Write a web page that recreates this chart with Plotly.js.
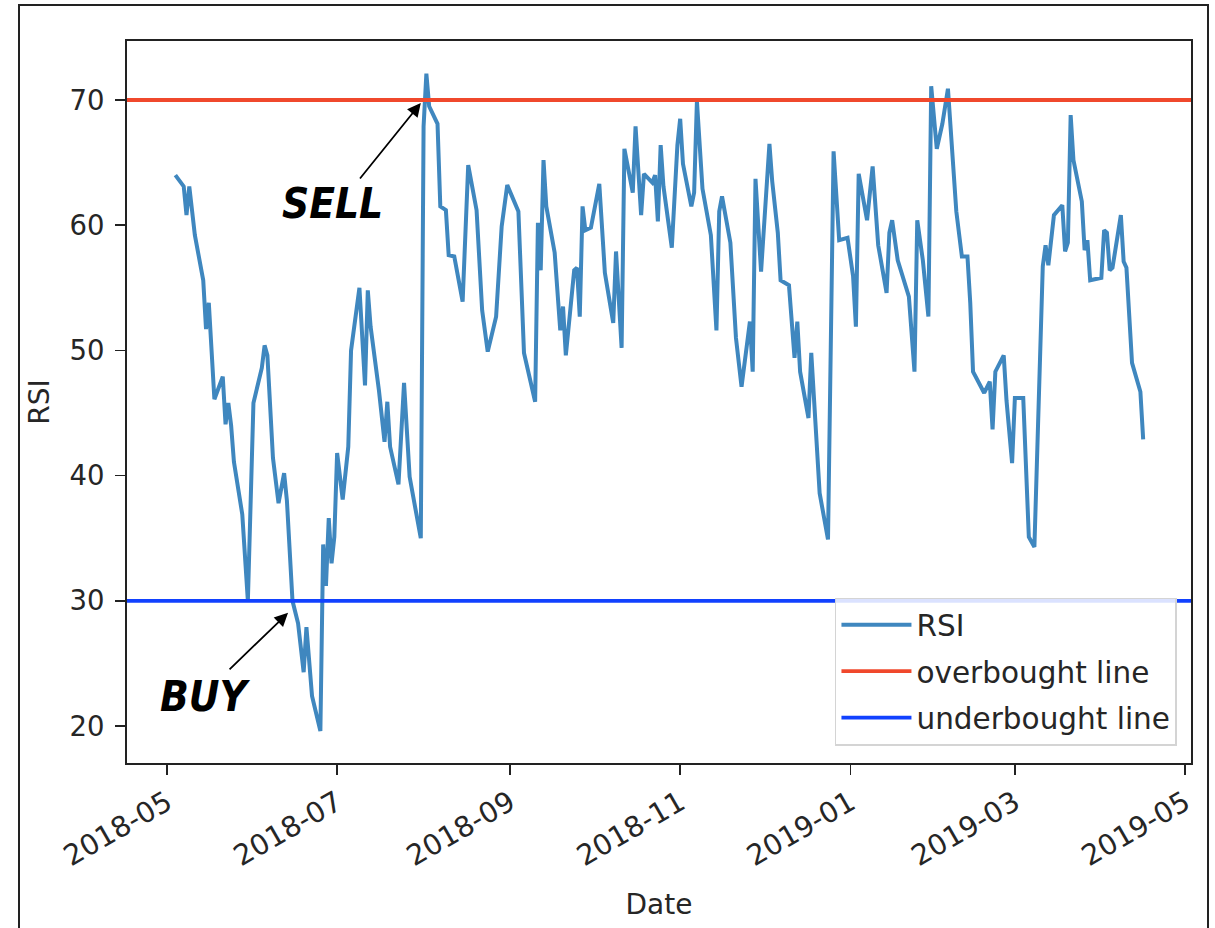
<!DOCTYPE html>
<html>
<head>
<meta charset="utf-8">
<script src="https://cdn.plot.ly/plotly-3.0.1.min.js"></script>
<style>
  html, body { margin: 0; padding: 0; background: #ffffff; }
  #wrap { position: relative; width: 1215px; height: 928px; overflow: hidden; }
  #chart { position: absolute; left: 0; top: 0; width: 1215px; height: 928px; }
  #frame { position: absolute; left: 18px; top: 4px; width: 1187px; height: 1000px;
           border: 2px solid #222; pointer-events: none; }
</style>
</head>
<body>
<div id="wrap">
  <div id="chart"></div>
  <div id="frame"></div>
</div>
<script>
// ---- data ----
const dates = [
  '2018-05-04','2018-05-07','2018-05-08','2018-05-09','2018-05-11','2018-05-14','2018-05-15','2018-05-16',
  '2018-05-18','2018-05-21','2018-05-22','2018-05-23','2018-05-24','2018-05-25','2018-05-28','2018-05-30',
  '2018-06-01','2018-06-04','2018-06-05','2018-06-06','2018-06-08','2018-06-10','2018-06-12','2018-06-13',
  '2018-06-15','2018-06-17','2018-06-19','2018-06-20','2018-06-22','2018-06-25','2018-06-26','2018-06-27',
  '2018-06-28','2018-06-29','2018-06-30','2018-07-01','2018-07-03','2018-07-05','2018-07-06','2018-07-09',
  '2018-07-11','2018-07-12','2018-07-13','2018-07-16','2018-07-18','2018-07-19','2018-07-20','2018-07-23',
  '2018-07-25','2018-07-27','2018-07-31','2018-08-01','2018-08-02','2018-08-03','2018-08-06','2018-08-07',
  '2018-08-09','2018-08-10','2018-08-12','2018-08-13','2018-08-15','2018-08-17','2018-08-20','2018-08-22',
  '2018-08-24','2018-08-27','2018-08-29','2018-08-31','2018-09-04','2018-09-06','2018-09-10','2018-09-11',
  '2018-09-12','2018-09-13','2018-09-14','2018-09-17','2018-09-19','2018-09-20','2018-09-21','2018-09-24',
  '2018-09-25','2018-09-26','2018-09-27','2018-09-28','2018-09-30','2018-10-03','2018-10-05','2018-10-08',
  '2018-10-09','2018-10-11','2018-10-12','2018-10-15','2018-10-16','2018-10-18','2018-10-19','2018-10-22',
  '2018-10-23','2018-10-24','2018-10-25','2018-10-26','2018-10-29','2018-10-31','2018-11-01','2018-11-02',
  '2018-11-05','2018-11-06','2018-11-07','2018-11-09','2018-11-12','2018-11-14','2018-11-15','2018-11-16',
  '2018-11-19','2018-11-21','2018-11-23','2018-11-26','2018-11-27','2018-11-28','2018-11-29','2018-11-30',
  '2018-12-03','2018-12-04','2018-12-06','2018-12-07','2018-12-10','2018-12-12','2018-12-13','2018-12-14',
  '2018-12-17','2018-12-18','2018-12-21','2018-12-24','2018-12-26','2018-12-28','2018-12-31','2019-01-02',
  '2019-01-03','2019-01-04','2019-01-07','2019-01-09','2019-01-11','2019-01-14','2019-01-15','2019-01-16',
  '2019-01-18','2019-01-22','2019-01-24','2019-01-25','2019-01-27','2019-01-29','2019-01-30','2019-02-01',
  '2019-02-03','2019-02-05','2019-02-08','2019-02-10','2019-02-12','2019-02-13','2019-02-14','2019-02-18',
  '2019-02-20','2019-02-21','2019-02-22','2019-02-25','2019-02-26','2019-02-28','2019-03-01','2019-03-04',
  '2019-03-06','2019-03-08','2019-03-11','2019-03-12','2019-03-13','2019-03-15','2019-03-18','2019-03-19',
  '2019-03-20','2019-03-21','2019-03-22','2019-03-25','2019-03-26','2019-03-27','2019-03-28','2019-04-01',
  '2019-04-02','2019-04-03','2019-04-04','2019-04-05','2019-04-08','2019-04-09','2019-04-10','2019-04-12',
  '2019-04-15','2019-04-16'
];
const rsi = [
  64.0, 63.1, 60.8, 63.1, 59.2, 55.6, 51.7, 53.8,
  46.1, 47.9, 44.1, 45.8, 44.0, 41.1, 36.9, 30.0,
  45.8, 48.6, 50.4, 49.6, 41.4, 37.8, 40.2, 38.0,
  30.0, 28.2, 24.3, 27.9, 22.4, 19.6, 34.5, 31.2,
  36.6, 33.0, 35.1, 41.8, 38.1, 42.3, 50.0, 55.0,
  47.2, 54.8, 51.9, 46.8, 42.7, 45.9, 42.3, 39.3,
  47.4, 39.9, 35.0, 67.9, 72.1, 69.5, 68.1, 61.5,
  61.2, 57.6, 57.5, 56.2, 53.9, 64.8, 61.2, 53.2,
  49.9, 52.7, 59.9, 63.2, 61.1, 49.8, 45.9, 60.2,
  56.4, 65.2, 61.5, 57.8, 51.6, 53.5, 49.6, 56.4,
  56.6, 52.7, 61.5, 59.6, 59.8, 63.3, 56.2, 52.2,
  57.9, 50.2, 66.1, 62.6, 67.9, 60.8, 64.1, 63.4,
  64.0, 60.3, 66.4, 63.1, 58.2, 66.4, 68.5, 64.9,
  61.5, 62.6, 69.9, 62.9, 59.2, 51.6, 61.1, 62.3,
  58.6, 51.0, 47.1, 52.3, 48.3, 63.7, 59.4, 56.3,
  66.5, 63.5, 59.4, 55.6, 55.2, 49.4, 52.3, 48.3,
  44.6, 49.8, 38.6, 34.9, 65.9, 58.8, 59.0, 55.9,
  51.9, 64.1, 60.4, 64.7, 58.4, 54.6, 59.4, 60.4,
  57.2, 54.3, 48.3, 60.4, 57.2, 52.7, 71.1, 66.1,
  68.1, 70.9, 61.1, 57.5, 57.5, 53.8, 48.3, 46.6,
  47.5, 43.7, 48.3, 49.6, 46.0, 41.0, 46.2, 46.2,
  35.1, 34.3, 56.7, 58.4, 56.8, 60.8, 61.6, 57.9,
  58.6, 68.8, 65.2, 61.9, 58.0, 58.8, 55.6, 55.8,
  59.6, 59.4, 56.4, 56.6, 60.8, 57.1, 56.6, 49.0,
  46.7, 42.9
];
const overboughtLevel = 70;
const underboughtLevel = 30;
const seriesNames = ['RSI', 'overbought line', 'underbought line'];
const xTickVals = ['2018-05-01','2018-07-01','2018-09-01','2018-11-01','2019-01-01','2019-03-01','2019-05-01'];
const xTickText = ['2018-05','2018-07','2018-09','2018-11','2019-01','2019-03','2019-05'];
const yTickVals = [20, 30, 40, 50, 60, 70];

// ---- layout / styling ----
const xRange = ['2018-04-16 16:00', '2019-05-03 03:30'];
const yRange = [17.05, 74.71];
const FONT = 'DejaVu Sans, Liberation Sans, sans-serif';
const TXT = '#262626';

const traces = [
  { x: dates, y: rsi, type: 'scatter', mode: 'lines', name: seriesNames[0],
    legendgroup: 'a', line: { color: '#3f87bf', width: 4 }, hoverinfo: 'skip' },
  { x: xRange, y: [overboughtLevel, overboughtLevel], type: 'scatter', mode: 'lines', name: seriesNames[1],
    legendgroup: 'b', line: { color: '#f0482c', width: 3.8 }, hoverinfo: 'skip' },
  { x: xRange, y: [underboughtLevel, underboughtLevel], type: 'scatter', mode: 'lines', name: seriesNames[2],
    legendgroup: 'c', line: { color: '#1141ff', width: 3.8 }, hoverinfo: 'skip' }
];

const signalFont = { family: 'Liberation Sans Narrow, DejaVu Sans Condensed, sans-serif', size: 42,
                     color: '#000', weight: 'bold', style: 'italic' };

const layout = {
  width: 1215, height: 928,
  paper_bgcolor: 'rgba(0,0,0,0)', plot_bgcolor: '#ffffff',
  margin: { l: 127, r: 24, t: 41, b: 165 },
  font: { family: FONT, size: 27, color: TXT },
  showlegend: true,
  legend: {
    x: 0.9868, y: 0.024, xanchor: 'right', yanchor: 'bottom',
    bgcolor: 'rgba(255,255,255,0.85)', bordercolor: '#d4d4d4', borderwidth: 1.5,
    font: { family: FONT, size: 29.5, color: TXT },
    traceorder: 'grouped', tracegroupgap: 5, itemwidth: 70
  },
  xaxis: {
    type: 'date', range: xRange, autorange: false,
    tickmode: 'array', tickvals: xTickVals, ticktext: xTickText, tickangle: -30,
    ticks: 'outside', ticklen: 10, tickwidth: 1.5, tickcolor: '#222',
    tickfont: { family: FONT, size: 28.5, color: TXT },
    showgrid: false, zeroline: false,
    showline: true, mirror: true, linecolor: '#222', linewidth: 2,
    title: { text: 'Date', font: { family: FONT, size: 28, color: TXT }, standoff: 22 },
    automargin: false, fixedrange: true
  },
  yaxis: {
    range: yRange, autorange: false,
    tickmode: 'array', tickvals: yTickVals,
    ticks: 'outside', ticklen: 10, tickwidth: 1.5, tickcolor: '#222',
    tickfont: { family: FONT, size: 27.5, color: TXT }, ticklabelstandoff: 5,
    showgrid: false, zeroline: false,
    showline: true, mirror: true, linecolor: '#222', linewidth: 2,
    title: { text: 'RSI', font: { family: FONT, size: 28, color: TXT }, standoff: 12 },
    automargin: false, fixedrange: true
  },
  annotations: [
    { x: '2018-07-31 00:00', y: 69.76, xref: 'x', yref: 'y', text: '', showarrow: true,
      ax: -62, ay: 77, axref: 'pixel', ayref: 'pixel',
      arrowhead: 2, arrowsize: 1.5, arrowwidth: 1.8, arrowcolor: '#000', standoff: 0, startstandoff: 0 },
    { x: '2018-06-13 10:00', y: 29.04, xref: 'x', yref: 'y', text: '', showarrow: true,
      ax: -60, ay: 58, axref: 'pixel', ayref: 'pixel',
      arrowhead: 2, arrowsize: 1.5, arrowwidth: 1.8, arrowcolor: '#000', standoff: 0, startstandoff: 0 },
    { x: '2018-06-29 12:00', y: 61.7, xref: 'x', yref: 'y', text: 'SELL', showarrow: false,
      font: signalFont, xanchor: 'center', yanchor: 'middle' },
    { x: '2018-05-14 14:00', y: 22.4, xref: 'x', yref: 'y', text: 'BUY', showarrow: false,
      font: signalFont, xanchor: 'center', yanchor: 'middle' }
  ]
};

Plotly.newPlot('chart', traces, layout, { staticPlot: true, displayModeBar: false });
</script>
</body>
</html>
